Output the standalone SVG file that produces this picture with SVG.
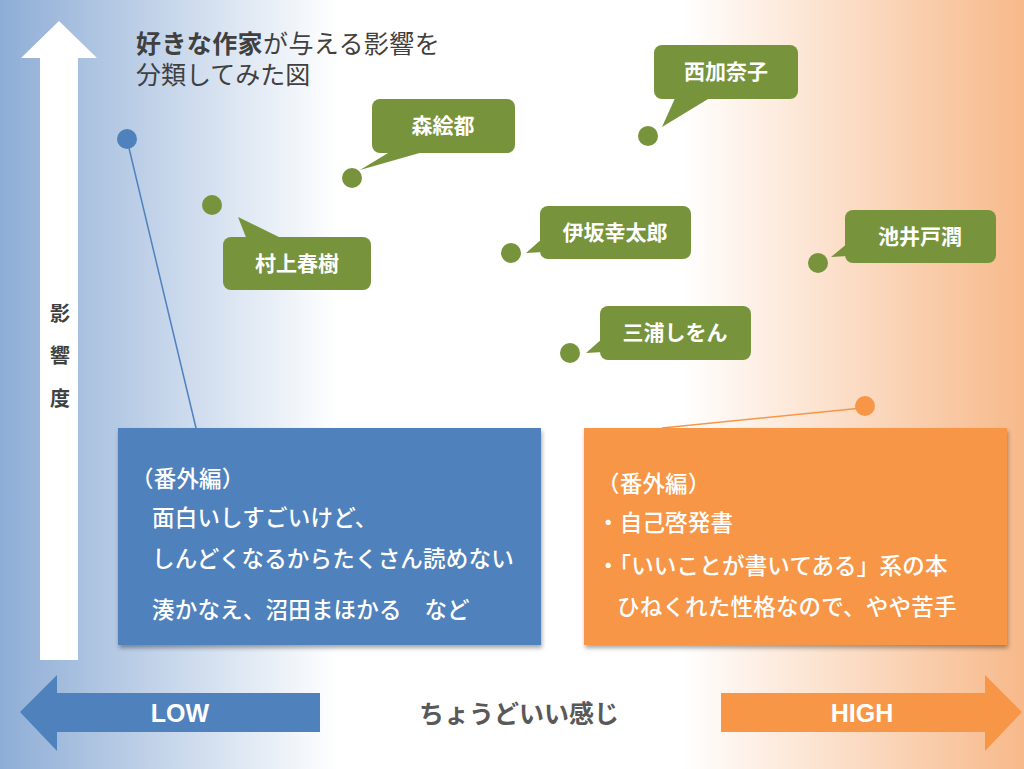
<svg xmlns="http://www.w3.org/2000/svg" width="1024" height="769" viewBox="0 0 1024 769">
<defs>
<linearGradient id="bg" x1="0" y1="0" x2="1024" y2="0" gradientUnits="userSpaceOnUse">
<stop offset="0" stop-color="#8eadd6"/>
<stop offset="0.33" stop-color="#ffffff"/>
<stop offset="0.665" stop-color="#ffffff"/>
<stop offset="1" stop-color="#f7b98a"/>
</linearGradient>
<filter id="sh" x="-5%" y="-5%" width="112%" height="115%">
<feDropShadow dx="1" dy="3" stdDeviation="2" flood-color="#000" flood-opacity="0.35"/>
</filter>
<style>
.jp{font-family:"Noto Sans CJK JP","Noto Sans",sans-serif}
.title{font-size:25px;fill:#404040}
.axis{font-size:20px;font-weight:bold;fill:#404040;text-anchor:middle}
.cl{fill:#77933c}
.cltxt{font-size:21px;font-weight:bold;fill:#ffffff;text-anchor:middle}
.dotg{fill:#77933c}
.bt{font-size:22.5px;font-weight:500;fill:#ffffff;letter-spacing:0.2px}
.lh{font-family:"Liberation Sans","Noto Sans",sans-serif;font-size:25px;font-weight:bold;fill:#ffffff;text-anchor:middle}
</style>
</defs>
<rect x="0" y="0" width="1024" height="769" fill="url(#bg)"/>

<g id="axis-vertical">
<polygon points="40,660 40,58 21,58 59,21 97,58 78,58 78,660" fill="#ffffff"/>
<text class="jp axis" x="60" y="321">影</text>
<text class="jp axis" x="60" y="363">響</text>
<text class="jp axis" x="60" y="406">度</text>
</g>

<g id="title">
<text class="jp title" x="136" y="53" letter-spacing="0.4"><tspan font-weight="bold">好きな作家</tspan>が与える影響を</text>
<text class="jp title" x="136" y="84">分類してみた図</text>
</g>

<g id="connectors">
<line x1="129" y1="148" x2="196" y2="428" stroke="#4f81bd" stroke-width="1.5"/>
<line x1="862" y1="408" x2="662" y2="428" stroke="#f79646" stroke-width="1.5"/>
</g>

<g id="dot-low">
<circle cx="127" cy="139" r="10" fill="#4f81bd"/>
</g>
<g id="dot-high">
<circle cx="865" cy="406" r="10" fill="#f79646"/>
</g>

<g id="murakami">
<circle class="dotg" cx="212" cy="205" r="10"/>
<polygon class="cl" points="247,240 238,217 285,240"/>
<rect class="cl" x="223" y="237" width="148" height="53" rx="8"/>
<text class="jp cltxt" x="297" y="271">村上春樹</text>
</g>

<g id="mori">
<circle class="dotg" cx="352" cy="178" r="10"/>
<polygon class="cl" points="393,150 360,170 430,150"/>
<rect class="cl" x="372" y="99" width="143" height="54" rx="8"/>
<text class="jp cltxt" x="443" y="133">森絵都</text>
</g>

<g id="nishi">
<circle class="dotg" cx="648" cy="136" r="10"/>
<polygon class="cl" points="676,96 662,127 713,96"/>
<rect class="cl" x="654" y="45" width="144" height="54" rx="8"/>
<text class="jp cltxt" x="726" y="79">西加奈子</text>
</g>

<g id="isaka">
<circle class="dotg" cx="511" cy="253" r="10"/>
<polygon class="cl" points="543,238 526,253 543,252"/>
<rect class="cl" x="540" y="206" width="151" height="53" rx="8"/>
<text class="jp cltxt" x="615" y="240">伊坂幸太郎</text>
</g>

<g id="ikeido">
<circle class="dotg" cx="818" cy="263" r="10"/>
<polygon class="cl" points="848,243 831,257 848,256"/>
<rect class="cl" x="845" y="210" width="151" height="53" rx="8"/>
<text class="jp cltxt" x="920" y="244">池井戸潤</text>
</g>

<g id="miura">
<circle class="dotg" cx="570" cy="353" r="10"/>
<polygon class="cl" points="603,338 586,353 603,352"/>
<rect class="cl" x="600" y="306" width="151" height="54" rx="8"/>
<text class="jp cltxt" x="675" y="340">三浦しをん</text>
</g>

<g id="box-low">
<rect x="118" y="428" width="423" height="217" fill="#4f81bd" filter="url(#sh)"/>
<text class="jp bt" x="131" y="487">（番外編）</text>
<text class="jp bt" x="152" y="526">面白いしすごいけど、</text>
<text class="jp bt" x="152" y="567">しんどくなるからたくさん読めない</text>
<text class="jp bt" x="152" y="618">湊かなえ、沼田まほかる　など</text>
</g>

<g id="box-high">
<rect x="584" y="428" width="423" height="217" fill="#f79646" filter="url(#sh)"/>
<text class="jp bt" x="597" y="492">（番外編）</text>
<text class="jp bt" x="597" y="531">・自己啓発書</text>
<text class="jp bt" x="597" y="574" letter-spacing="0.9">・「いいことが書いてある」系の本</text>
<text class="jp bt" x="617" y="615">ひねくれた性格なので、やや苦手</text>
</g>

<g id="arrow-low">
<polygon points="320,693 57,693 57,675 20,712 57,751 57,732 320,732" fill="#4f81bd"/>
<text class="lh" x="180" y="722">LOW</text>
</g>

<g id="label-mid">
<text class="jp" x="519" y="723" font-size="25" font-weight="bold" fill="#595959" text-anchor="middle">ちょうどいい感じ</text>
</g>

<g id="arrow-high">
<polygon points="721,693 985,693 985,675 1022,712 985,751 985,732 721,732" fill="#f79646"/>
<text class="lh" x="862" y="722">HIGH</text>
</g>
</svg>
